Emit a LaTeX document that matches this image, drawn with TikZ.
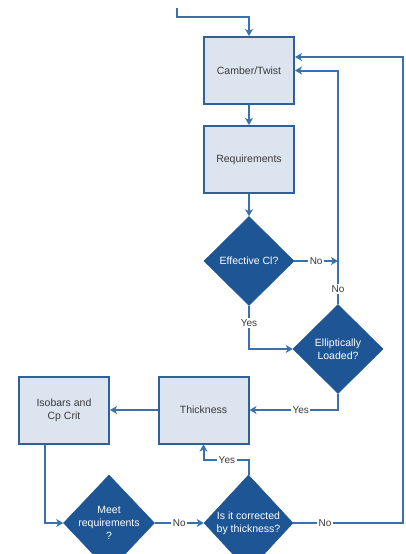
\documentclass[tikz,border=0pt]{standalone}
\usepackage{fontspec}
\setmainfont{Liberation Sans}
\usetikzlibrary{shapes.geometric,arrows.meta,calc}
\definecolor{linecol}{HTML}{3A70AD}
\definecolor{boxfill}{HTML}{DCE4F0}
\definecolor{boxedge}{HTML}{2F609A}
\definecolor{decfill}{HTML}{1E5594}
\definecolor{txt}{HTML}{3A3A3A}
\tikzset{
  procbox/.style={draw=boxedge, line width=2pt, fill=boxfill, minimum width=90pt,
    minimum height=67pt, align=center, text=txt, font=\fontsize{10.5}{12.7}\selectfont},
  decision/.style={diamond, fill=decfill, draw=decfill, line width=0.6pt, inner sep=0pt,
    minimum width=90pt, minimum height=89pt},
  dectext/.style={align=center, text=white, font=\fontsize{10.5}{12.7}\selectfont},
  flow/.style={draw=linecol, line width=2pt, -{Stealth[length=7pt,width=8pt,inset=2pt]}},
  lbl/.style={fill=white, inner sep=1.5pt, text=txt, font=\fontsize{10}{12}\selectfont}
}
\begin{document}
\begin{tikzpicture}[x=1pt,y=-1pt]
\useasboundingbox (0,0) rectangle (406,554);
\begin{scope}
\clip (0,0) rectangle (406,554);

% process boxes
\node[procbox] (camber) at (249,70.5) {Camber/Twist};
\node[procbox] (req) at (249,159.5) {Requirements};
\node[procbox] (thick) at (203.5,410) {Thickness};
\node[procbox] (iso) at (64,410) {Isobars and\\Cp Crit};

% decisions
\node[decision] (eff) at (249,261) {};
\node[dectext] at (eff) {Effective Cl?};
\node[decision] (ell) at (338,349) {};
\node[dectext] at (ell) {Elliptically\\Loaded?};
\node[decision, minimum height=96pt, minimum width=91pt] (meet) at (109,523) {};
\node[dectext] at (meet) {Meet\\requirements\\?};
\node[decision, minimum height=96pt, minimum width=89pt] (corr) at (248.5,523) {};
\node[dectext] at (corr) {Is it corrected\\by thickness?};

% helper points
\coordinate (start) at (177,8);
\coordinate (bend) at (249,17);
\coordinate (rtop) at (403,57);

% connectors
\draw[flow] (start) |- (bend) -- (camber.north);
\draw[flow] (camber.south) -- (req.north);
\draw[flow] (req.south) -- (eff.north);
\draw[flow] (eff.east) -- node[lbl]{No} (eff.east -| ell.north);
\draw[flow] (ell.north) |- node[lbl,pos=0.032]{No} (camber.east);
\draw[flow] (eff.south) |- node[lbl,pos=0.2]{Yes} (ell.west);
\draw[flow] (ell.south) |- node[lbl,pos=0.71]{Yes} (thick.east);
\draw[flow] (thick.west) -- (iso.east);
\draw[flow] ([xshift=-19pt]iso.south) |- (meet.west);
\draw[flow] (meet.east) -- node[lbl]{No} (corr.west);
\draw[flow] (corr.north) -- ++(0,-15) -| node[lbl,pos=0.24]{Yes} (thick.south);
\draw[flow] (corr.east) -| node[lbl,pos=0.145]{No} (rtop) -- ([yshift=13.5pt]camber.east);
\end{scope}
\end{tikzpicture}
\end{document}
